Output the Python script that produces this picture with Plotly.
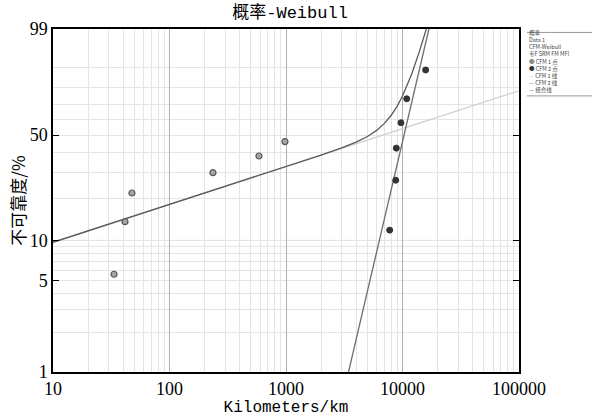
import numpy as np
import plotly.graph_objects as go

# ---- data ----
cfm1_km = [33.4, 41.5, 47.6, 236, 586, 980]
cfm1_pct = [5.6, 13.7, 21.8, 29.8, 37.9, 46.0]

cfm2_km = [7760, 8750, 8850, 9700, 10870, 15800]
cfm2_pct = [11.9, 26.6, 42.2, 57.8, 73.4, 89.1]

fit1_km = [10, 100000]
fit1_pct = [9.66, 78.3]

fit2_km = [3440, 16850]
fit2_pct = [1.0, 99.0]

comb_km = [10, 100, 1000, 2000, 3000, 4000, 5000, 6000, 7000, 8000, 9000,
           10000, 12000, 14000, 16000]
comb_pct = [9.7, 18.1, 32.6, 38.4, 42.3, 45.7, 49.1, 52.9, 57.4, 62.7, 68.7,
            75.1, 87.3, 95.5, 99.0]

y_tick_pct = [1, 5, 10, 50, 99]
y_grid_pct = [1, 2, 3, 4, 5, 6, 7, 8, 9, 10, 20, 30, 40, 50, 60, 70, 80, 90, 99]
y_major_pct = [10]
x_tick_km = [10, 100, 1000, 10000, 100000]
x_tick_text = ["10", "100", "1000", "10000", "100000"]
x_minor_km = [m * d for d in [10, 100, 1000, 10000] for m in range(2, 10)]


def weib(p):
    p = np.asarray(p, dtype=float) / 100.0
    return np.log(-np.log(1.0 - p))


fig = go.Figure()

fig.add_trace(go.Scatter(x=fit1_km, y=weib(fit1_pct), mode="lines",
                         line=dict(color="#cfcfcf", width=1.3), name="CFM 1 线"))
fig.add_trace(go.Scatter(x=fit2_km, y=weib(fit2_pct), mode="lines",
                         line=dict(color="#6e6e6e", width=1.3), name="CFM 2 线"))
fig.add_trace(go.Scatter(x=comb_km, y=weib(comb_pct), mode="lines",
                         line=dict(color="#5a5a5a", width=1.3), name="组合线"))
fig.add_trace(go.Scatter(x=cfm1_km, y=weib(cfm1_pct), mode="markers",
                         marker=dict(color="#a6a6a6", size=6,
                                     line=dict(color="#555555", width=1.2)),
                         name="CFM 1 点"))
fig.add_trace(go.Scatter(x=cfm2_km, y=weib(cfm2_pct), mode="markers",
                         marker=dict(color="#333333", size=6,
                                     line=dict(color="#333333", width=1)),
                         name="CFM 2 点"))

for p in y_major_pct:
    fig.add_shape(type="line", xref="paper", x0=0, x1=1, yref="y",
                  y0=float(weib([p])[0]), y1=float(weib([p])[0]),
                  line=dict(color="#a8a8a8", width=1), layer="between")

cjk_mono = "Liberation Mono, Noto Sans CJK SC"

fig.update_layout(
    width=592, height=418,
    margin=dict(l=53, r=73, t=29, b=46),
    paper_bgcolor="white", plot_bgcolor="white",
    showlegend=False,
    title=dict(text="概率-Weibull", x=0.49, xanchor="center", y=0.972,
               yanchor="middle", font=dict(family=cjk_mono, size=17, color="black")),
    xaxis=dict(
        type="log", range=[1, 5], automargin=False,
        tickmode="array", tickvals=x_tick_km, ticktext=x_tick_text,
        tickfont=dict(family="Liberation Serif", size=18, color="black"),
        showgrid=True, gridcolor="#b0b0b0", gridwidth=1,
        minor=dict(tickmode="array", tickvals=x_minor_km, showgrid=True,
                   gridcolor="#e4e4e4", gridwidth=1, ticks=""),
        showline=True, linecolor="black", linewidth=1.5, mirror=True,
        ticks="", zeroline=False,
        title=dict(text="Kilometers/km", standoff=0,
                   font=dict(family=cjk_mono, size=16, color="black")),
    ),
    yaxis=dict(
        range=[float(weib([1])[0]), float(weib([99])[0])], automargin=False,
        tickmode="array", tickvals=weib(y_tick_pct).tolist(),
        ticktext=[str(v) for v in y_tick_pct],
        tickfont=dict(family="Liberation Serif", size=18, color="black"),
        showgrid=False,
        minor=dict(tickmode="array", tickvals=weib(y_grid_pct).tolist(),
                   showgrid=True, gridcolor="#e4e4e4", gridwidth=1, ticks=""),
        showline=True, linecolor="black", linewidth=1.5, mirror="ticks",
        ticks="inside", ticklen=6, tickcolor="black", zeroline=False,
        title=dict(text="不可靠度/%", standoff=0,
                   font=dict(family="Noto Sans CJK SC", size=17, color="black")),
    ),
)

legend_text = ("概率<br>Data 1<br>CFM-Weibull<br>韦F SRM FM MFI<br>"
               "<span style='color:#8a8a8a'>●</span> CFM 1 点<br>"
               "<span style='color:#333333'>●</span> CFM 2 点<br>"
               "<span style='color:#bdbdbd'>—</span> CFM 1 线<br>"
               "<span style='color:#6e6e6e'>—</span> CFM 2 线<br>"
               "<span style='color:#444444'>—</span> 组合线")
fig.add_annotation(xref="paper", yref="paper", x=1.017, y=1.005,
                   xanchor="left", yanchor="top", align="left", showarrow=False,
                   text=legend_text,
                   font=dict(family="Noto Sans CJK SC", size=5.5, color="#444444"))
fig.add_shape(type="line", xref="paper", yref="paper", x0=1.017, x1=1.16,
              y0=0.99, y1=0.99, line=dict(color="#999999", width=1))
fig.add_shape(type="line", xref="paper", yref="paper", x0=1.017, x1=1.16,
              y0=0.805, y1=0.805, line=dict(color="#999999", width=1))

fig.write_html("out.html")
